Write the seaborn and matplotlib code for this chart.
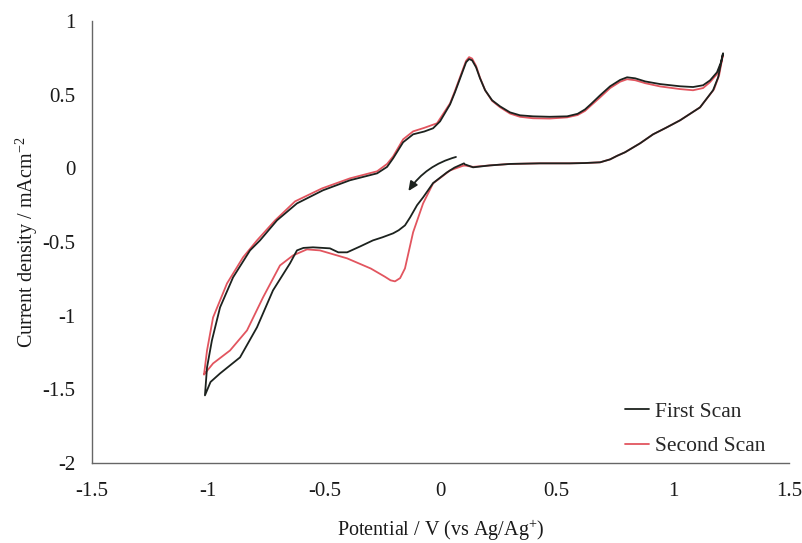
import matplotlib
matplotlib.use("Agg")
import matplotlib.pyplot as plt
import seaborn as sns
import pandas as pd

# Cyclic voltammogram, potentials in V vs Ag/Ag+, current density in mA cm^-2
first_E = [0.101, 0.060, 0.028, -0.032, -0.075, -0.101, -0.131, -0.153, -0.180, -0.204,
           -0.250, -0.291, -0.346, -0.402, -0.440, -0.476, -0.549, -0.590, -0.618, -0.648,
           -0.721, -0.790, -0.863, -0.949, -0.990, -1.014,
           -1.005, -0.984, -0.949, -0.893, -0.820, -0.777, -0.704, -0.618, -0.506, -0.390,
           -0.273, -0.230, -0.204, -0.161, -0.118, -0.070, -0.032, -0.002, 0.041, 0.062,
           0.097, 0.110, 0.123, 0.136, 0.153, 0.170, 0.192, 0.222, 0.256, 0.299,
           0.342, 0.398, 0.470, 0.545, 0.590, 0.622, 0.650, 0.687, 0.730, 0.773,
           0.803, 0.838, 0.881, 0.945, 1.031, 1.087, 1.130, 1.160, 1.190, 1.207, 1.216,
           1.195, 1.173, 1.117, 1.031, 0.970, 0.915, 0.859, 0.794, 0.760, 0.730, 0.687,
           0.620, 0.557, 0.428, 0.300, 0.213, 0.140, 0.105]
first_j = [0.034, 0.005, -0.027, -0.100, -0.197, -0.250, -0.333, -0.387, -0.420, -0.441,
           -0.468, -0.489, -0.530, -0.570, -0.570, -0.543, -0.536, -0.540, -0.557, -0.645,
           -0.828, -1.079, -1.283, -1.392, -1.450, -1.541,
           -1.351, -1.168, -0.944, -0.740, -0.557, -0.489, -0.353, -0.238, -0.149, -0.081,
           -0.034, 0.010, 0.068, 0.177, 0.231, 0.250, 0.272, 0.319, 0.434, 0.516,
           0.665, 0.720, 0.742, 0.733, 0.686, 0.611, 0.530, 0.462, 0.421, 0.380,
           0.360, 0.353, 0.350, 0.353, 0.370, 0.400, 0.440, 0.496, 0.557, 0.600,
           0.618, 0.611, 0.590, 0.572, 0.557, 0.552, 0.564, 0.597, 0.652, 0.720, 0.781,
           0.618, 0.530, 0.414, 0.326, 0.275, 0.231, 0.170, 0.109, 0.085, 0.061, 0.041,
           0.036, 0.034, 0.034, 0.030, 0.020, 0.007, 0.027]

second_E = [0.101, 0.041, -0.032, -0.075, -0.118, -0.153, -0.174, -0.196, -0.215, -0.240,
            -0.300, -0.402, -0.519, -0.575, -0.635, -0.691, -0.764, -0.833, -0.906, -0.979,
            -1.014,
            -1.018, -1.005, -0.979, -0.919, -0.850, -0.790, -0.712, -0.626, -0.510, -0.390,
            -0.273, -0.230, -0.204, -0.161, -0.118, -0.070, -0.015, 0.041, 0.062, 0.097,
            0.110, 0.123, 0.136, 0.153, 0.170, 0.192, 0.222, 0.256, 0.299, 0.342,
            0.398, 0.470, 0.545, 0.590, 0.622, 0.650, 0.687, 0.730, 0.773, 0.803,
            0.838, 0.881, 0.945, 1.031, 1.087, 1.130, 1.160, 1.190, 1.207, 1.216,
            1.199, 1.177, 1.117, 1.031, 0.970, 0.915, 0.859, 0.794, 0.760, 0.730, 0.687,
            0.620, 0.557, 0.428, 0.300, 0.213, 0.140, 0.101]
second_j = [0.020, -0.014, -0.102, -0.238, -0.434, -0.679, -0.745, -0.767, -0.760, -0.735,
            -0.680, -0.611, -0.557, -0.550, -0.591, -0.659, -0.876, -1.100, -1.236, -1.324,
            -1.392,
            -1.400, -1.236, -1.012, -0.781, -0.604, -0.489, -0.353, -0.224, -0.136, -0.068,
            -0.020, 0.030, 0.081, 0.197, 0.251, 0.275, 0.306, 0.441, 0.525, 0.675,
            0.730, 0.755, 0.745, 0.695, 0.615, 0.530, 0.458, 0.415, 0.372, 0.350,
            0.340, 0.338, 0.346, 0.362, 0.390, 0.430, 0.482, 0.545, 0.588, 0.605,
            0.598, 0.578, 0.556, 0.538, 0.530, 0.545, 0.585, 0.640, 0.710, 0.774,
            0.631, 0.536, 0.414, 0.326, 0.275, 0.231, 0.170, 0.109, 0.085, 0.061, 0.041,
            0.036, 0.034, 0.034, 0.030, 0.020, 0.010, 0.020]

x_ticks = [-1.5, -1, -0.5, 0, 0.5, 1, 1.5]
y_ticks = [-2, -1.5, -1, -0.5, 0, 0.5, 1]

first = pd.DataFrame({"E": first_E, "j": first_j})
second = pd.DataFrame({"E": second_E, "j": second_j})

sns.set_style("white")
plt.rcParams["font.family"] = ["Liberation Serif", "DejaVu Serif"]
plt.rcParams["mathtext.fontset"] = "custom"
plt.rcParams["mathtext.rm"] = "Liberation Serif"
plt.rcParams["axes.unicode_minus"] = False

fig = plt.figure(figsize=(8.03, 5.43), dpi=100)
ax = fig.add_axes([0.1146, 0.1473, 0.868, 0.814])

sns.lineplot(data=second, x="E", y="j", sort=False, estimator=None, ax=ax,
             color="#e2555f", lw=1.3, label="Second Scan", zorder=2,
             solid_joinstyle="round")
sns.lineplot(data=first, x="E", y="j", sort=False, estimator=None, ax=ax,
             color="#1c221e", lw=1.3, label="First Scan", zorder=3,
             solid_joinstyle="round")

# scan direction arrow
ax.annotate("", xy=(-0.145, -0.17), xytext=(0.078, 0.082),
            arrowprops=dict(arrowstyle="-|>,head_length=0.55,head_width=0.25",
                            color="#1c221e", lw=1.3,
                            connectionstyle="arc3,rad=0.2"))

ax.set_xlim(-1.5, 1.5)
ax.set_ylim(-2, 1)
ax.set_xticks(x_ticks)
ax.set_yticks(y_ticks)
ax.set_xticklabels([f"{t:g}" for t in x_ticks])
ax.set_yticklabels([f"{t:g}" for t in y_ticks])

for side in ("top", "right"):
    ax.spines[side].set_visible(False)
for side in ("left", "bottom"):
    ax.spines[side].set_color("#666666")
    ax.spines[side].set_linewidth(1.0)

ax.tick_params(axis="both", direction="out", length=5, width=1, color="#666666",
               labelsize=15, labelcolor="#1a1a1a")
ax.tick_params(axis="x", pad=9)
ax.tick_params(axis="y", pad=7)

ax.set_xlabel("Potential / V (vs Ag/Ag$\\mathregular{^{+}}$)", fontsize=14.5,
              color="#1a1a1a", labelpad=12)
ax.set_ylabel("Current density / mAcm$\\mathregular{^{-2}}$", fontsize=14.5,
              color="#1a1a1a", labelpad=2)

handles, labels = ax.get_legend_handles_labels()
order = [labels.index("First Scan"), labels.index("Second Scan")]
ax.legend([handles[i] for i in order], [labels[i] for i in order],
          loc="upper left", bbox_to_anchor=(0.737, 0.182), frameon=False,
          fontsize=15.5, handlelength=1.1, handletextpad=0.3, labelspacing=0.65)

fig.savefig("out.png", dpi=100)
